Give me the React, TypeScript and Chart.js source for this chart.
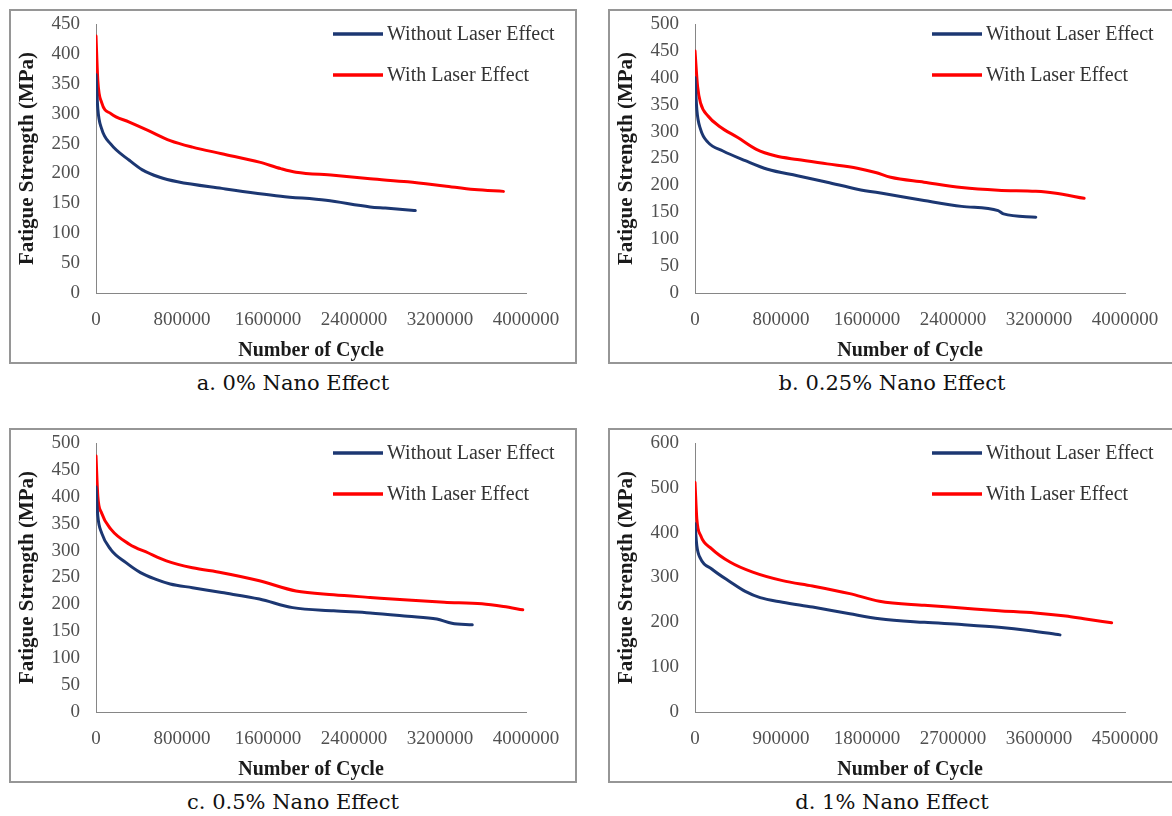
import React, { useEffect, useRef } from "react";
import { Chart, registerables } from "chart.js";

Chart.register(...registerables);

const BLUE = "#1c3772";
const RED = "#ff0000";
const SERIES_LABELS = ["Without Laser Effect", "With Laser Effect"];
const CAPTIONS = ["a. 0% Nano Effect", "b. 0.25% Nano Effect", "c. 0.5% Nano Effect", "d. 1% Nano Effect"];
const X_TITLE = "Number of Cycle";
const Y_TITLE = "Fatigue Strength (MPa)";

// Panel a: 0% nano
const aWithoutCycles = [0, 17000, 52000, 138000, 310000, 431000, 586000, 759000, 1170000, 1720000, 2140000, 2550000, 2690000, 2970000];
const aWithoutStrength = [365, 308, 275, 249, 222, 206, 194, 186, 175, 162, 155, 144, 142, 138];
const aWithCycles = [0, 17000, 52000, 138000, 310000, 483000, 690000, 897000, 1170000, 1520000, 1720000, 1860000, 2210000, 2550000, 2900000, 3240000, 3520000, 3790000];
const aWithStrength = [430, 355, 319, 300, 286, 272, 255, 244, 233, 219, 208, 202, 197, 191, 186, 179, 173, 170];

// Panel b: 0.25% nano
const bWithoutCycles = [0, 17000, 52000, 121000, 260000, 468000, 675000, 952000, 1230000, 1510000, 1780000, 2130000, 2480000, 2820000, 2870000, 3170000];
const bWithoutStrength = [400, 341, 304, 280, 264, 246, 230, 218, 206, 193, 184, 172, 161, 153, 147, 141];
const bWithCycles = [0, 24000, 52000, 121000, 225000, 398000, 571000, 745000, 952000, 1230000, 1510000, 1680000, 1820000, 2130000, 2480000, 2820000, 3170000, 3340000, 3620000];
const bWithStrength = [450, 384, 353, 329, 310, 289, 267, 255, 248, 240, 232, 224, 215, 206, 196, 191, 189, 186, 176];

// Panel c: 0.5% nano
const cWithoutCycles = [0, 17000, 52000, 138000, 276000, 414000, 552000, 690000, 897000, 1170000, 1520000, 1830000, 2210000, 2550000, 2900000, 3170000, 3310000, 3500000];
const cWithoutStrength = [418, 364, 333, 302, 278, 259, 247, 238, 231, 222, 210, 194, 188, 184, 178, 173, 165, 162];
const cWithCycles = [0, 17000, 52000, 138000, 310000, 483000, 655000, 897000, 1170000, 1520000, 1860000, 2210000, 2550000, 2900000, 3240000, 3590000, 3790000, 3970000];
const cWithStrength = [476, 401, 370, 340, 312, 296, 281, 268, 259, 244, 225, 218, 213, 208, 204, 201, 196, 190];

// Panel d: 1% nano
const dWithoutCycles = [0, 19000, 58000, 175000, 370000, 526000, 682000, 916000, 1230000, 1620000, 1930000, 2400000, 2790000, 3180000, 3490000, 3820000];
const dWithoutStrength = [420, 371, 342, 319, 290, 269, 255, 245, 234, 219, 208, 200, 195, 189, 182, 172];
const dWithCycles = [0, 19000, 58000, 175000, 370000, 604000, 916000, 1230000, 1620000, 1930000, 2400000, 2790000, 3180000, 3560000, 3880000, 4070000, 4360000];
const dWithStrength = [512, 431, 394, 364, 334, 312, 293, 281, 264, 247, 238, 232, 226, 221, 214, 208, 199];

// Axis ranges
const xMaxes = [4000000, 4000000, 4000000, 4500000];
const xSteps = [800000, 800000, 800000, 900000];
const yMaxes = [450, 500, 500, 600];
const ySteps = [50, 50, 50, 100];

const SERIF = '"Liberation Serif", "Times New Roman", serif';

const zip = (xs: number[], ys: number[]) => xs.map((x, i) => ({ x, y: ys[i] }));

const legendPlugin = {
  id: "excelLegend",
  afterDraw(chart: any) {
    const { ctx, chartArea } = chart;
    ctx.save();
    chart.data.datasets.forEach((ds: any, i: number) => {
      const y = chartArea.top + 10 + i * 41;
      const x0 = chartArea.left + 237;
      ctx.strokeStyle = ds.borderColor;
      ctx.lineWidth = 3.5;
      ctx.lineCap = "butt";
      ctx.beginPath();
      ctx.moveTo(x0, y);
      ctx.lineTo(x0 + 50, y);
      ctx.stroke();
      ctx.fillStyle = "#333333";
      ctx.font = `20px ${SERIF}`;
      ctx.textBaseline = "middle";
      ctx.textAlign = "left";
      ctx.fillText(ds.label, x0 + 54, y + 1);
    });
    ctx.restore();
  },
};

type PanelProps = {
  left: number;
  top: number;
  idx: number;
  series: { x: number[]; y: number[] }[];
};

const PANEL_W = 568;
const PANEL_H = 355;

function Panel({ left, top, idx, series }: PanelProps) {
  const ref = useRef<HTMLCanvasElement | null>(null);
  useEffect(() => {
    if (!ref.current) return;
    const colors = [BLUE, RED];
    const tickFont = { family: SERIF, size: 19 };
    const hiddenTickGrid = {
      display: true,
      drawOnChartArea: false,
      drawTicks: true,
      tickLength: 14,
      tickColor: "rgba(0,0,0,0)",
    };
    const chart = new Chart(ref.current, {
      type: "line",
      data: {
        datasets: series.map((s, i) => ({
          label: SERIES_LABELS[i],
          data: zip(s.x, s.y),
          borderColor: colors[i],
          backgroundColor: colors[i],
          borderWidth: 3,
          borderCapStyle: "round",
          borderJoinStyle: "round",
          pointRadius: 0,
          cubicInterpolationMode: "monotone",
          fill: false,
        })),
      },
      options: {
        animation: false,
        responsive: false,
        devicePixelRatio: 1,
        layout: { padding: { left: 0, top: 15, right: 51, bottom: 0 } },
        plugins: { legend: { display: false }, tooltip: { enabled: false } },
        scales: {
          x: {
            type: "linear",
            min: 0,
            max: xMaxes[idx],
            grid: hiddenTickGrid,
            border: { display: true, color: "#868686", width: 1 },
            ticks: {
              stepSize: xSteps[idx],
              padding: 2,
              font: tickFont,
              color: "#505050",
              maxRotation: 0,
              autoSkip: false,
              callback: (v: any) => String(v),
            },
            title: {
              display: true,
              text: X_TITLE,
              font: { family: SERIF, size: 20, weight: "bold" },
              color: "#1a1a1a",
              padding: { top: 0, bottom: 1 },
            },
            afterFit: (s: any) => {
              s.height = 71;
            },
          },
          y: {
            type: "linear",
            min: 0,
            max: yMaxes[idx],
            grid: hiddenTickGrid,
            border: { display: true, color: "#868686", width: 1 },
            ticks: {
              stepSize: ySteps[idx],
              padding: 2,
              font: tickFont,
              color: "#505050",
              autoSkip: false,
              callback: (v: any) => String(v),
            },
            title: {
              display: true,
              text: Y_TITLE,
              font: { family: SERIF, size: 21, weight: "bold" },
              color: "#1a1a1a",
              padding: { top: 6, bottom: 0 },
            },
            afterFit: (s: any) => {
              s.width = 87;
            },
          },
        },
      } as any,
      plugins: [legendPlugin],
    });
    return () => chart.destroy();
  }, []);

  return (
    <>
      <div
        style={{
          position: "absolute",
          left,
          top,
          width: PANEL_W,
          height: PANEL_H,
          boxSizing: "border-box",
          border: "2px solid #969696",
        }}
      />
      <canvas
        ref={ref}
        width={PANEL_W}
        height={PANEL_H}
        style={{ position: "absolute", left, top, width: PANEL_W, height: PANEL_H }}
      />
      <div
        style={{
          position: "absolute",
          left,
          top: top + PANEL_H + 7,
          width: PANEL_W,
          textAlign: "center",
          fontFamily: '"DejaVu Serif", serif',
          fontSize: 21,
          lineHeight: "24px",
          color: "#111",
        }}
      >
        {CAPTIONS[idx]}
      </div>
    </>
  );
}

export default function App() {
  return (
    <div
      style={{
        position: "absolute",
        left: 0,
        top: 0,
        width: 1172,
        height: 816,
        overflow: "hidden",
        background: "#fff",
      }}
    >
      <Panel left={9} top={9} idx={0} series={[{ x: aWithoutCycles, y: aWithoutStrength }, { x: aWithCycles, y: aWithStrength }]} />
      <Panel left={608} top={9} idx={1} series={[{ x: bWithoutCycles, y: bWithoutStrength }, { x: bWithCycles, y: bWithStrength }]} />
      <Panel left={9} top={428} idx={2} series={[{ x: cWithoutCycles, y: cWithoutStrength }, { x: cWithCycles, y: cWithStrength }]} />
      <Panel left={608} top={428} idx={3} series={[{ x: dWithoutCycles, y: dWithoutStrength }, { x: dWithCycles, y: dWithStrength }]} />
    </div>
  );
}
